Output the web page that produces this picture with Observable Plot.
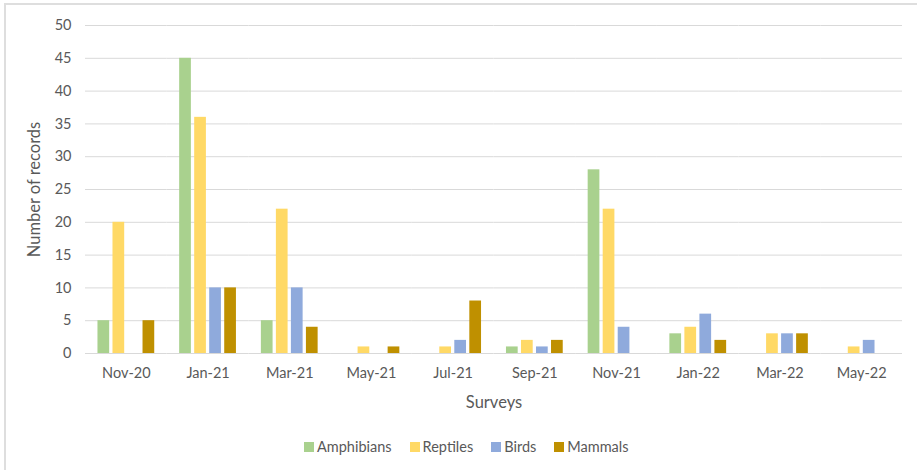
<!DOCTYPE html>
<html>
<head>
<meta charset="utf-8">
<script src="https://cdn.jsdelivr.net/npm/d3@7"></script>
<script src="https://cdn.jsdelivr.net/npm/@observablehq/plot@0.6"></script>
<style>
  body { margin: 0; background: #fff; }
  #wrap { position: relative; width: 917px; height: 470px; overflow: hidden; font-family: Lato, "Open Sans", sans-serif; color: #595959; }
  #frame { position: absolute; left: 4px; top: 3px; width: 1000px; height: 1000px; border-top: 2px solid #dedede; border-left: 2px solid #dedede; }
  #chart { position: absolute; left: 0; top: 0; }
  #legend { position: absolute; left: 304px; top: 438px; display: flex; gap: 18px; font-size: 14.5px; line-height: 18px; }
  #legend .item { display: flex; align-items: center; }
  #legend .sw { width: 10px; height: 10px; margin-right: 3px; }
</style>
</head>
<body>
<div id="wrap">
  <div id="frame"></div>
  <div id="chart"></div>
  <div id="legend"></div>
</div>
<script>
// Survey dates and record counts per taxon group
const surveys = ["Nov-20", "Jan-21", "Mar-21", "May-21", "Jul-21", "Sep-21", "Nov-21", "Jan-22", "Mar-22", "May-22"];
const groups = ["Amphibians", "Reptiles", "Birds", "Mammals"];
const amphibians = [5, 45, 5, 0, 0, 1, 28, 3, 0, 0];
const reptiles   = [20, 36, 22, 1, 1, 2, 22, 4, 3, 1];
const birds      = [0, 10, 10, 0, 2, 1, 4, 6, 3, 2];
const mammals    = [5, 10, 4, 1, 8, 2, 0, 2, 3, 0];
const colors = ["#a9d18e", "#ffd966", "#8faadc", "#bf9000"];
const yTicks = d3.range(0, 51, 5);

const series = [amphibians, reptiles, birds, mammals];
const rows = [];
surveys.forEach((s, i) => {
  groups.forEach((g, j) => rows.push({survey: s, group: g, value: series[j][i]}));
});

const font = "Lato, 'Open Sans', sans-serif";
const chart = Plot.plot({
  width: 917,
  height: 470,
  marginLeft: 85,
  marginRight: 15,
  marginTop: 25,
  marginBottom: 117,
  style: {fontFamily: font, fontSize: "16.5px", color: "#595959", background: "transparent"},
  fx: {domain: surveys, padding: 0, round: false},
  x: {domain: groups, axis: null, paddingInner: 0.22, paddingOuter: 0.83, round: false},
  y: {domain: [0, 50]},
  color: {domain: groups, range: colors},
  marks: [
    Plot.gridY(yTicks, {stroke: "#d9d9d9", strokeOpacity: 1, strokeWidth: 1}),
    Plot.barY(rows, {fx: "survey", x: "group", y: "value", fill: "group"}),
    Plot.axisY(yTicks, {tickSize: 0, tickPadding: 14, label: null, fontSize: 14.5}),
    Plot.axisFx({anchor: "bottom", tickSize: 0, tickPadding: 14, label: null, fontSize: 14.5}),
    // axis titles
    Plot.axisY({ticks: [], tickSize: 0, label: "Number of records", labelArrow: "none", labelAnchor: "center", labelOffset: 57}),
    Plot.axisFx({anchor: "bottom", ticks: [], tickSize: 0, label: "Surveys", labelArrow: "none", labelAnchor: "center", labelOffset: 54})
  ]
});
document.getElementById("chart").appendChild(chart);

const legend = d3.select("#legend");
groups.forEach((g, j) => {
  const item = legend.append("div").attr("class", "item");
  item.append("div").attr("class", "sw").style("background", colors[j]);
  item.append("span").text(g);
});
</script>
</body>
</html>
